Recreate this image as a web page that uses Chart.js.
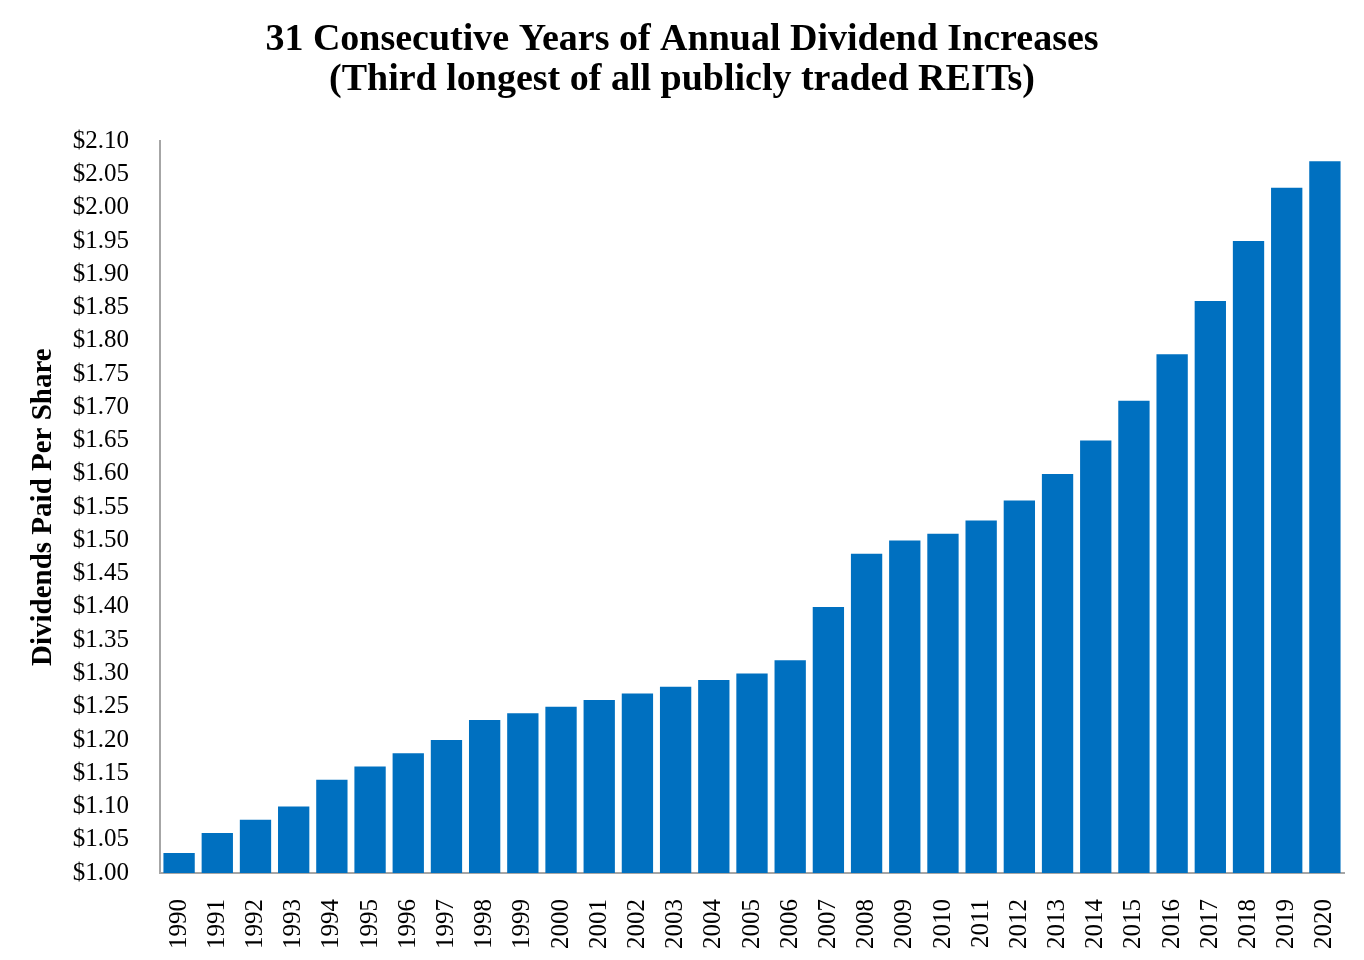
<!DOCTYPE html>
<html>
<head>
<meta charset="utf-8">
<script src="https://cdn.jsdelivr.net/npm/chart.js@4.4.1/dist/chart.umd.min.js"></script>
<style>
  html, body { margin: 0; padding: 0; background: #fff; }
  #wrap { width: 1364px; height: 960px; }
</style>
</head>
<body>
<div id="wrap"><canvas id="divChart" width="1364" height="960"></canvas></div>
<script>
const years = ['1990', '1991', '1992', '1993', '1994', '1995', '1996', '1997', '1998', '1999',
  '2000', '2001', '2002', '2003', '2004', '2005', '2006', '2007', '2008', '2009',
  '2010', '2011', '2012', '2013', '2014', '2015', '2016', '2017', '2018', '2019', '2020'];
const dividends = [1.03, 1.06, 1.08, 1.10, 1.14, 1.16, 1.18, 1.20, 1.23, 1.24,
  1.25, 1.26, 1.27, 1.28, 1.29, 1.30, 1.32, 1.40, 1.48, 1.50,
  1.51, 1.53, 1.56, 1.60, 1.65, 1.71, 1.78, 1.86, 1.95, 2.03, 2.07];
const titleLines = ['31 Consecutive Years of Annual Dividend Increases',
  '(Third longest of all publicly traded REITs)'];
const yMin = 1.00;
const yMax = 2.10;
const yStep = 0.05;

const serif = "'Liberation Serif', 'Times New Roman', serif";

const ctx = document.getElementById('divChart').getContext('2d');
new Chart(ctx, {
  type: 'bar',
  data: {
    labels: years,
    datasets: [{
      label: 'Dividends Paid Per Share',
      data: dividends,
      backgroundColor: '#0070C0',
      borderWidth: 0,
      categoryPercentage: 1.0,
      barPercentage: 0.82
    }]
  },
  options: {
    responsive: false,
    animation: false,
    layout: { padding: { left: 20, right: 20, top: 0, bottom: 0 } },
    plugins: {
      legend: { display: false },
      tooltip: { enabled: false },
      title: {
        display: true,
        text: titleLines,
        color: '#000',
        font: { family: serif, size: 38, weight: 'bold', lineHeight: 1.03 },
        padding: { top: 21, bottom: 42 }
      }
    },
    scales: {
      x: {
        grid: { display: false },
        border: { display: true, color: '#A6A6A6', width: 2 },
        ticks: {
          color: '#000',
          font: { family: serif, size: 25 },
          minRotation: 90,
          maxRotation: 90,
          padding: 18,
          autoSkip: false
        },
        afterFit: function (axis) {
          axis.height = 87;
          axis.paddingRight = 0;
        }
      },
      y: {
        min: yMin,
        max: yMax,
        grid: { display: false },
        border: { display: true, color: '#A6A6A6', width: 2 },
        ticks: {
          stepSize: yStep,
          color: '#000',
          font: { family: serif, size: 25 },
          padding: 23,
          callback: function (v) { return '$' + Number(v).toFixed(2); }
        },
        title: {
          display: true,
          text: 'Dividends Paid Per Share',
          color: '#000',
          font: { family: serif, size: 29, weight: 'bold' },
          padding: { top: 6, bottom: 0 }
        },
        afterFit: function (axis) { axis.width = 140; }
      }
    }
  }
});
</script>
</body>
</html>
